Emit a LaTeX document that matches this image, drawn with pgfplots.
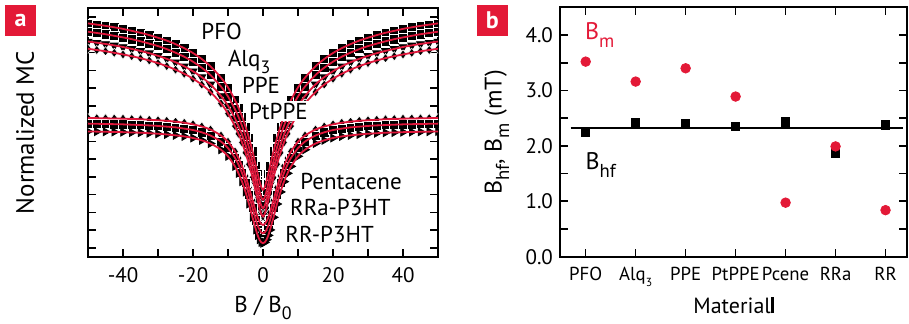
\documentclass[border=0pt]{standalone}
\usepackage{pgfplots}
\pgfplotsset{compat=1.18}
\usepackage{pgfplotstable}
\usepackage{graphicx}
\usepackage{fontspec}
\setmainfont{PT Sans}
\definecolor{natred}{HTML}{E31937}
\definecolor{fitred}{HTML}{E0183C}
\newcommand\sub[1]{\raisebox{-0.32em}{\scalebox{0.78}{#1}}}

\pgfplotstableread{
x pfo alq ppe ptppe pen rra rr
-50 13.15 12.68 12.13 11.72 7.82 7.50 7.06
-47.5 13.08 12.61 12.06 11.65 7.81 7.49 7.05
-45 13.01 12.54 11.99 11.58 7.80 7.48 7.04
-42.5 12.93 12.45 11.91 11.49 7.79 7.47 7.03
-40 12.84 12.36 11.82 11.40 7.78 7.46 7.02
-37.5 12.73 12.26 11.71 11.30 7.76 7.44 7.00
-35 12.62 12.14 11.60 11.19 7.75 7.42 6.99
-32.5 12.49 12.01 11.47 11.06 7.72 7.40 6.96
-30 12.34 11.87 11.32 10.91 7.69 7.37 6.93
-27.5 12.18 11.70 11.15 10.74 7.66 7.33 6.89
-25 11.98 11.50 10.96 10.54 7.61 7.29 6.84
-22.5 11.75 11.27 10.73 10.31 7.55 7.22 6.78
-20 11.48 10.99 10.45 10.03 7.46 7.14 6.69
-17.5 11.14 10.65 10.12 9.70 7.34 7.01 6.56
-15 10.73 10.24 9.71 9.28 7.17 6.83 6.38
-12 10.09 9.59 9.06 8.64 6.83 6.49 6.03
-10 9.54 9.03 8.51 8.07 6.48 6.12 5.66
-8 8.83 8.31 7.80 7.36 5.93 5.57 5.09
-7 8.40 7.88 7.37 6.93 5.56 5.19 4.70
-6 7.91 7.38 6.88 6.44 5.11 4.72 4.23
-5 7.34 6.81 6.31 5.86 4.55 4.15 3.65
-4 6.69 6.15 5.66 5.21 3.90 3.48 2.97
-3 5.94 5.39 4.90 4.45 3.19 2.75 2.22
-2 5.10 4.55 4.07 3.60 2.50 2.05 1.51
-1.5 4.67 4.11 3.63 3.17 2.21 1.75 1.20
-1 4.26 3.70 3.22 2.75 1.99 1.52 0.96
-0.5 3.92 3.36 2.88 2.41 1.84 1.37 0.81
0 3.77 3.20 2.73 2.26 1.79 1.32 0.76
0.5 3.92 3.36 2.88 2.41 1.84 1.37 0.81
1 4.26 3.70 3.22 2.75 1.99 1.52 0.96
1.5 4.67 4.11 3.63 3.17 2.21 1.75 1.20
2 5.10 4.55 4.07 3.60 2.50 2.05 1.51
3 5.94 5.39 4.90 4.45 3.19 2.75 2.22
4 6.69 6.15 5.66 5.21 3.90 3.48 2.97
5 7.34 6.81 6.31 5.86 4.55 4.15 3.65
6 7.91 7.38 6.88 6.44 5.11 4.72 4.23
7 8.40 7.88 7.37 6.93 5.56 5.19 4.70
8 8.83 8.31 7.80 7.36 5.93 5.57 5.09
10 9.54 9.03 8.51 8.07 6.48 6.12 5.66
12 10.09 9.59 9.06 8.64 6.83 6.49 6.03
15 10.73 10.24 9.71 9.28 7.17 6.83 6.38
17.5 11.14 10.65 10.12 9.70 7.34 7.01 6.56
20 11.48 10.99 10.45 10.03 7.46 7.14 6.69
22.5 11.75 11.27 10.73 10.31 7.55 7.22 6.78
25 11.98 11.50 10.96 10.54 7.61 7.29 6.84
27.5 12.18 11.70 11.15 10.74 7.66 7.33 6.89
30 12.34 11.87 11.32 10.91 7.69 7.37 6.93
32.5 12.49 12.01 11.47 11.06 7.72 7.40 6.96
35 12.62 12.14 11.60 11.19 7.75 7.42 6.99
37.5 12.73 12.26 11.71 11.30 7.76 7.44 7.00
40 12.84 12.36 11.82 11.40 7.78 7.46 7.02
42.5 12.93 12.45 11.91 11.49 7.79 7.47 7.03
45 13.01 12.54 11.99 11.58 7.80 7.48 7.04
47.5 13.08 12.61 12.06 11.65 7.81 7.49 7.05
50 13.15 12.68 12.13 11.72 7.82 7.50 7.06
}\mcdata

\pgfplotsset{
  panel/.style={
    scale only axis, anchor=south west,
    tick align=inside, major tick length=4pt, minor tick length=4pt,
    tick style={line width=0.8pt, black},
    axis line style={line width=1pt},
    font=\fontsize{10.5}{12}\selectfont,
    ticklabel style={font=\fontsize{10.5}{12}\selectfont},
    clip marker paths=true,
  },
  mk/.style={only marks, mark=#1, mark size=2.3pt, mark options={fill=black, draw=white, line width=0.25pt}},
  fit/.style={fitred, line width=0.9pt, smooth, no marks},
}

\begin{document}
\begin{tikzpicture}
\path[use as bounding box] (0,0) rectangle (454.5pt,161.5pt);

% ---------- panel a ----------
\begin{axis}[panel, at={(44pt,33.15pt)}, width=175pt, height=124.2pt,
  xmin=-50, xmax=50, ymin=0, ymax=14,
  xtick={-40,-20,0,20,40}, xticklabels={-40,-20,0,20,40},
  minor xtick={-30,-10,10,30},
  ytick={0.5,1.5,...,13.5}, yticklabels={},
  xticklabel style={yshift=-2pt},
  xlabel={B / B\sub{0}},
  xlabel style={at={(axis description cs:0.5,-0.2226)}, anchor=base, font=\fontsize{11.5}{13}\selectfont},
  ylabel={Normalized MC},
  ylabel style={at={(axis description cs:-0.18,0.5)}, anchor=center, font=\fontsize{12.5}{14}\selectfont},
]
\addplot[mk=square*] table[x=x,y=pfo]{\mcdata};
\addplot[mk=square*] table[x=x,y=alq]{\mcdata};
\addplot[mk=triangle*, mark options={rotate=180}] table[x=x,y=ppe]{\mcdata};
\addplot[mk=diamond*] table[x=x,y=ptppe]{\mcdata};
\addplot[mk=diamond*] table[x=x,y=pen]{\mcdata};
\addplot[mk=square*] table[x=x,y=rra]{\mcdata};
\addplot[mk=triangle*, mark options={rotate=-90}] table[x=x,y=rr]{\mcdata};
\addplot[fit] table[x=x,y=pfo]{\mcdata};
\addplot[fit] table[x=x,y=alq]{\mcdata};
\addplot[fit] table[x=x,y=ppe]{\mcdata};
\addplot[fit] table[x=x,y=ptppe]{\mcdata};
\addplot[fit] table[x=x,y=pen]{\mcdata};
\addplot[fit] table[x=x,y=rra]{\mcdata};
\addplot[fit] table[x=x,y=rr]{\mcdata};
\begin{scope}[every node/.style={anchor=base west, font=\fontsize{11.5}{13}\selectfont, inner sep=0.5pt}]
\node at (axis cs:-18,12.24) {PFO};
\node at (axis cs:-10.4,10.73) {Alq\sub{3}};
\node at (axis cs:-6.4,9.19) {PPE};
\node[fill=white, inner sep=1pt] at (axis cs:-4.66,7.76) {PtPPE};
\node at (axis cs:10.29,3.81) {Pentacene};
\node at (axis cs:7.34,2.32) {RRa-P3HT};
\node at (axis cs:6.0,0.81) {RR-P3HT};
\end{scope}
\end{axis}

% ---------- panel b ----------
\begin{axis}[panel, at={(280pt,33.15pt)}, width=173.5pt, height=124.7pt,
  xmin=-0.514, xmax=6.43, ymin=0, ymax=4.5,
  xtick={0,1,2,3,4,5,6},
  xticklabels={PFO,Alq\sub{\scalebox{0.8}{3}},PPE,PtPPE,Pcene,RRa,RR},
  ytick={0,1,2,3,4}, yticklabels={0.0,1.0,2.0,3.0,4.0},
  minor ytick={0.5,1.5,2.5,3.5},
  xticklabel style={yshift=-1.5pt, font=\fontsize{9.4}{12}\selectfont},
  xlabel={Material\rule{1.4pt}{8pt}},
  xlabel style={at={(axis description cs:0.5,-0.2273)}, anchor=base, font=\fontsize{11}{12}\selectfont},
  ylabel={B\sub{hf}, B\sub{m} (mT)},
  ylabel style={at={(axis description cs:-0.182,0.5)}, anchor=center, font=\fontsize{12}{14}\selectfont},
]
\addplot[black, line width=1.1pt, no marks] coordinates {(-0.3,2.32) (6.34,2.32)};
\addplot[only marks, mark=square*, mark size=2.1pt, black] coordinates {
(0,2.24) (1,2.42) (2,2.40) (3,2.35) (4,2.43) (5,1.87) (6,2.38)};
\addplot[only marks, mark=*, mark size=2.4pt, natred, mark options={draw=natred, fill=natred}] coordinates {
(0,3.52) (1,3.16) (2,3.40) (3,2.89) (4,0.975) (5,1.99) (6,0.84)};
\node[anchor=base west, text=natred, font=\fontsize{12}{13}\selectfont, inner sep=0pt] at (axis cs:-0.02,3.92) {B\sub{m}};
\node[anchor=base west, font=\fontsize{12}{13}\selectfont, inner sep=0pt] at (axis cs:-0.01,1.565) {B\sub{hf}};
\end{axis}

% badges
\node[fill=natred, text=white, minimum size=15.5pt, inner sep=0pt, font=\bfseries\fontsize{12}{12}\selectfont] at (10.25pt,151.5pt) {a};
\node[fill=natred, text=white, minimum size=15.5pt, inner sep=0pt, font=\bfseries\fontsize{12}{12}\selectfont] at (246.1pt,151.3pt) {b};
\end{tikzpicture}
\end{document}
